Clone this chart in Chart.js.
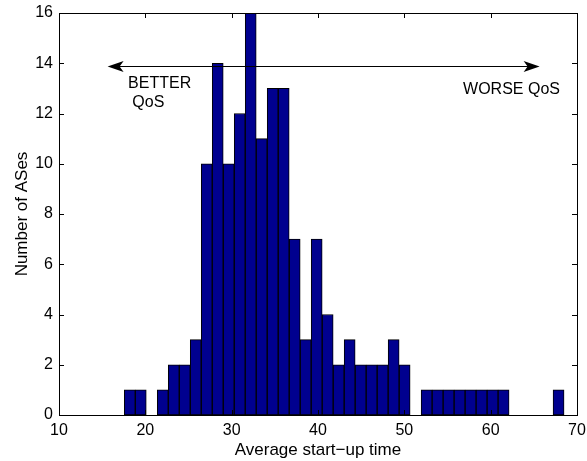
<!DOCTYPE html>
<html>
<head>
<meta charset="utf-8">
<script src="https://cdn.jsdelivr.net/npm/chart.js@4.4.1/dist/chart.umd.min.js"></script>
<style>
  html, body { margin: 0; padding: 0; background: #fff; }
</style>
</head>
<body>
<canvas id="startupHist" width="587" height="461"></canvas>
<script>
// histogram of average start-up time: bin centres and number of ASes in each bin
var binCentres = [
  18.197, 19.471, 20.744, 22.018, 23.291, 24.565, 25.838, 27.112, 28.385, 29.659,
  30.932, 32.206, 33.479, 34.753, 36.026, 37.300, 38.573, 39.847, 41.120, 42.394,
  43.667, 44.941, 46.214, 47.488, 48.761, 50.035, 51.308, 52.582, 53.855, 55.129,
  56.402, 57.676, 58.949, 60.223, 61.496, 62.770, 64.043, 65.317, 66.590, 67.864
];
var asCounts = [
  1, 1, 0, 1, 2, 2, 3, 10, 14, 10,
  12, 16, 11, 13, 13, 7, 3, 7, 4, 2,
  3, 2, 2, 2, 3, 2, 0, 1, 1, 1,
  1, 1, 1, 1, 1, 0, 0, 0, 0, 1
];
var xTickValues = [10, 20, 30, 40, 50, 60, 70];
var yTickValues = [0, 2, 4, 6, 8, 10, 12, 14, 16];

// the "better / worse" arrow across the top, in axis units
var arrowY = 13.88;
var arrowLeft = 15.63;
var arrowRight = 65.67;
var arrowLabels = [
  { text: 'BETTER', x: 18.0, y: 13.19 },
  { text: 'QoS', x: 18.49, y: 12.44 },
  { text: 'WORSE QoS', x: 56.8, y: 12.94 }
];

var fontFamily = "'Liberation Sans', Arial, Helvetica, sans-serif";
Chart.defaults.color = '#000';
Chart.defaults.font.family = fontFamily;

// box around the plot with inward tick marks on all four sides
var boxTicks = {
  id: 'boxTicks',
  afterDatasetsDraw: function (chart) {
    var ctx = chart.ctx;
    var a = chart.chartArea;
    var xs = chart.scales.x, ys = chart.scales.y;
    var len = 5;
    ctx.save();
    ctx.strokeStyle = '#000';
    ctx.lineWidth = 1;
    ctx.beginPath();
    xTickValues.forEach(function (v) {
      var px = Math.round(xs.getPixelForValue(v)) + 0.5;
      ctx.moveTo(px, a.bottom);
      ctx.lineTo(px, a.bottom - len);
      ctx.moveTo(px, a.top);
      ctx.lineTo(px, a.top + len);
    });
    yTickValues.forEach(function (v) {
      var py = Math.round(ys.getPixelForValue(v)) + 0.5;
      ctx.moveTo(a.left, py);
      ctx.lineTo(a.left + len, py);
      ctx.moveTo(a.right, py);
      ctx.lineTo(a.right - len, py);
    });
    ctx.stroke();
    ctx.strokeRect(Math.round(a.left) + 0.5, Math.round(a.top) + 0.5,
      Math.round(a.right - a.left), Math.round(a.bottom - a.top));
    ctx.restore();
  }
};

function arrowHead(ctx, tipX, y, dir) {
  ctx.beginPath();
  ctx.moveTo(tipX, y);
  ctx.lineTo(tipX - dir * 16, y - 5.5);
  ctx.lineTo(tipX - dir * 12, y);
  ctx.lineTo(tipX - dir * 16, y + 5.5);
  ctx.closePath();
  ctx.fill();
}

// double-headed arrow with its text
var qosArrow = {
  id: 'qosArrow',
  afterDatasetsDraw: function (chart) {
    var ctx = chart.ctx;
    var xs = chart.scales.x, ys = chart.scales.y;
    var y = Math.round(ys.getPixelForValue(arrowY)) + 0.5;
    var x1 = xs.getPixelForValue(arrowLeft);
    var x2 = xs.getPixelForValue(arrowRight);
    ctx.save();
    ctx.strokeStyle = '#000';
    ctx.fillStyle = '#000';
    ctx.lineWidth = 1;
    ctx.beginPath();
    ctx.moveTo(x1 + 10, y);
    ctx.lineTo(x2 - 10, y);
    ctx.stroke();
    arrowHead(ctx, x1, y, -1);
    arrowHead(ctx, x2, y, 1);
    ctx.font = '16px ' + fontFamily;
    ctx.textBaseline = 'middle';
    ctx.textAlign = 'left';
    arrowLabels.forEach(function (l) {
      ctx.fillText(l.text, xs.getPixelForValue(l.x), ys.getPixelForValue(l.y));
    });
    ctx.restore();
  }
};

var ctx = document.getElementById('startupHist').getContext('2d');
var histChart = new Chart(ctx, {
  type: 'bar',
  data: {
    datasets: [{
      data: binCentres.map(function (x, i) { return { x: x, y: asCounts[i] }; }),
      backgroundColor: '#00008F',
      borderColor: '#000',
      borderWidth: 1,
      borderSkipped: false,
      barPercentage: 1,
      categoryPercentage: 1
    }]
  },
  options: {
    responsive: false,
    animation: false,
    devicePixelRatio: 1,
    layout: { padding: { left: 0, right: 10, top: 13, bottom: 0 } },
    plugins: {
      legend: { display: false },
      tooltip: { enabled: false }
    },
    scales: {
      x: {
        type: 'linear',
        min: 10,
        max: 70,
        offset: false,
        grid: { display: false, drawTicks: false },
        border: { display: false },
        afterBuildTicks: function (scale) {
          scale.ticks = xTickValues.map(function (v) { return { value: v }; });
        },
        afterFit: function (scale) {
          scale.height = 46;
          scale.paddingLeft = 0;
          scale.paddingRight = 0;
        },
        ticks: { padding: 6, maxRotation: 0, font: { size: 16 } },
        title: {
          display: true,
          text: 'Average start\u2212up time',
          font: { size: 17 },
          padding: { top: 0, bottom: 0 }
        }
      },
      y: {
        min: 0,
        max: 16,
        grid: { display: false, drawTicks: false },
        border: { display: false },
        afterBuildTicks: function (scale) {
          scale.ticks = yTickValues.map(function (v) { return { value: v }; });
        },
        afterFit: function (scale) {
          scale.width = 59;
          scale.paddingTop = 0;
          scale.paddingBottom = 0;
        },
        ticks: { padding: 6, font: { size: 16 } },
        title: {
          display: true,
          text: 'Number of ASes',
          font: { size: 17 },
          padding: { top: 12, bottom: 0 }
        }
      }
    }
  },
  plugins: [boxTicks, qosArrow]
});
</script>
</body>
</html>
